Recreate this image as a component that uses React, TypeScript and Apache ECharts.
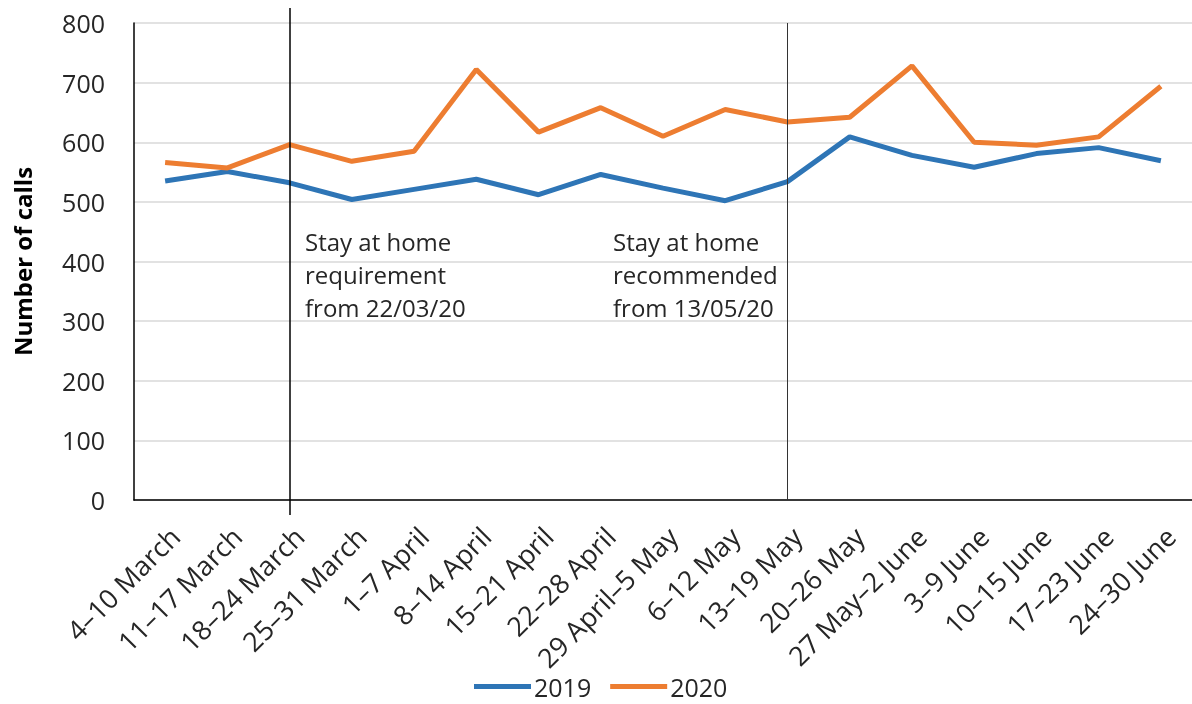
import React, { useEffect, useRef } from "react";
import * as echarts from "echarts";

const categories = [
  "4–10 March",
  "11–17 March",
  "18–24 March",
  "25–31 March",
  "1–7 April",
  "8–14 April",
  "15–21 April",
  "22–28 April",
  "29 April–5 May",
  "6–12 May",
  "13–19 May",
  "20–26 May",
  "27 May–2 June",
  "3–9 June",
  "10–15 June",
  "17–23 June",
  "24–30 June",
];

const calls2019 = [535, 551, 532, 504, 521, 538, 512, 546, 523, 502, 534, 609, 578, 558, 581, 591, 569];
const calls2020 = [566, 557, 596, 568, 585, 722, 617, 658, 610, 655, 634, 642, 728, 600, 595, 609, 694];

const yTicks = { min: 0, max: 800, interval: 100 };

const events = [
  { category: "18–24 March", text: "Stay at home\nrequirement\nfrom 22/03/20" },
  { category: "13–19 May", text: "Stay at home\nrecommended\nfrom 13/05/20" },
];

const FONT = '"Open Sans", "Noto Sans", sans-serif';

export default function App() {
  const ref = useRef<HTMLDivElement>(null);

  useEffect(() => {
    if (!ref.current) return;
    const chart = echarts.init(ref.current, undefined, { renderer: "svg" });
    chart.setOption({
      animation: false,
      textStyle: { fontFamily: FONT },
      grid: [
        { left: 134, width: 1066, top: 23, bottom: 204, containLabel: false },
        { left: 134, width: 1066, top: 8, bottom: 189, containLabel: false },
      ],
      legend: {
        data: ["2019", "2020"],
        left: 474,
        top: 674,
        padding: 0,
        icon: "rect",
        itemWidth: 57,
        itemHeight: 5,
        itemGap: 19,
        textStyle: { fontSize: 25, lineHeight: 25, color: "#262626", fontFamily: FONT, padding: [0, 0, 0, -2] },
      },
      xAxis: [
        {
          type: "category",
          gridIndex: 0,
          data: categories,
          boundaryGap: true,
          axisLine: { show: true, lineStyle: { color: "#000", width: 1.5 } },
          axisTick: { show: false },
          axisLabel: {
            rotate: 45,
            interval: 0,
            fontSize: 27,
            color: "#262626",
            margin: 22,
            verticalAlign: "top",
            fontFamily: FONT,
          },
          splitLine: { show: false },
        },
        {
          type: "category",
          gridIndex: 1,
          data: categories,
          boundaryGap: true,
          show: false,
        },
      ],
      yAxis: [
        {
          type: "value",
          gridIndex: 0,
          min: yTicks.min,
          max: yTicks.max,
          interval: yTicks.interval,
          name: "Number of calls",
          nameLocation: "middle",
          nameGap: 100,
          nameTextStyle: { fontSize: 24, fontWeight: "bold", color: "#000", fontFamily: FONT },
          axisLine: { show: true, lineStyle: { color: "#000", width: 1.5 } },
          axisTick: { show: false },
          axisLabel: { fontSize: 25, color: "#262626", margin: 29, fontFamily: FONT },
          splitLine: { show: true, lineStyle: { color: "#d9d9d9", width: 1.5 } },
        },
        {
          type: "value",
          gridIndex: 1,
          min: 0,
          max: 1,
          show: false,
          splitLine: { show: false },
        },
      ],
      series: [
        {
          name: "2019",
          type: "line",
          data: calls2019,
          symbol: "none",
          lineStyle: { width: 5, color: "#2e75b6" },
          itemStyle: { color: "#2e75b6" },
          markLine: {
            silent: true,
            symbol: "none",
            label: { show: false },
            data: [
              [
                { coord: [events[1].category, 800], lineStyle: { color: "#333", width: 1, type: "solid" } },
                { coord: [events[1].category, 0] },
              ],
            ],
          },
        },
        {
          name: "2020",
          type: "line",
          data: calls2020,
          symbol: "none",
          lineStyle: { width: 5, color: "#ed7d31" },
          itemStyle: { color: "#ed7d31" },
        },
        {
          name: "event",
          type: "line",
          xAxisIndex: 1,
          yAxisIndex: 1,
          data: [],
          symbol: "none",
          markLine: {
            silent: true,
            symbol: "none",
            label: { show: false },
            data: [
              [
                { coord: [events[0].category, 1], lineStyle: { color: "#000", width: 1.5, type: "solid" } },
                { coord: [events[0].category, 0] },
              ],
            ],
          },
        },
      ],
      graphic: [
        {
          type: "text",
          left: 305,
          top: 225,
          style: { text: events[0].text, font: `24px ${FONT}`, lineHeight: 33, fill: "#262626" },
        },
        {
          type: "text",
          left: 613,
          top: 225,
          style: { text: events[1].text, font: `24px ${FONT}`, lineHeight: 33, fill: "#262626" },
        },
      ],
    });
    return () => chart.dispose();
  }, []);

  return (
    <div
      ref={ref}
      style={{ position: "fixed", left: 0, top: 0, width: 1192, height: 704 }}
    />
  );
}
